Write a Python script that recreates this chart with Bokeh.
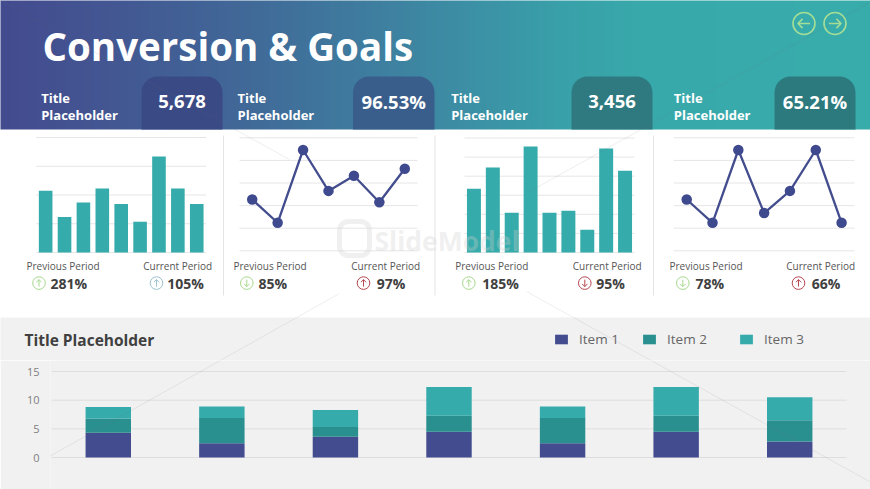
import numpy as np
from bokeh.embed import file_html
from bokeh.resources import INLINE
from bokeh.core.properties import value
from bokeh.layouts import column, row
from bokeh.models import Range1d, ColumnDataSource, FixedTicker, Legend, LegendItem
from bokeh.plotting import figure

# ---- data ----
heading = "Conversion & Goals"
kpi_values = ["5,678", "96.53%", "3,456", "65.21%"]
bars_1 = [4.29, 2.47, 3.47, 4.45, 3.38, 2.14, 6.67, 4.45, 3.38]
line_2 = [2.27, 1.24, 4.46, 2.65, 3.32, 2.15, 3.63]
bars_3 = [3.34, 4.46, 2.08, 5.56, 2.08, 2.19, 1.19, 5.45, 4.28]
line_4 = [2.27, 1.24, 4.46, 1.67, 2.65, 4.46, 1.24]
prev_pct = ["281%", "85%", "185%", "78%"]
curr_pct = ["105%", "97%", "95%", "66%"]
item_1 = [4.3, 2.5, 3.6, 4.5, 2.5, 4.5, 2.8]
item_2 = [2.5, 4.4, 1.7, 2.8, 4.4, 2.8, 3.7]
item_3 = [2.0, 2.0, 3.0, 5.0, 2.0, 5.0, 4.0]
item_names = ["Item 1", "Item 2", "Item 3"]
y_ticks = [0, 5, 10, 15]

FONT = value("Open Sans")
TEAL, NAVY, DTEAL = "#36ABAB", "#424C8F", "#2A8F8F"
GREEN, RED, BLUEG = "#A6D98C", "#B5474F", "#9CC3CF"
DARK = "#404040"
GREY = "#F1F1F1"
W, H_TOP, H_BOT = 870, 360, 129
OFF = 1  # layout coordinates below sit one pixel after the drawn page position


def txt(x, y, s, size, color="#555555", style="normal", align="left", alpha=1.0):
    p.text([x], [y], text=[s], text_font=FONT, text_font_size=f"{size}px", text_color=color, text_alpha=alpha,
           text_font_style=style, text_align=align, text_baseline="middle")


def arrow_icon(cx, cy, r, color, direction, lw=1.2):
    a = r * 0.55
    h = r * 0.42
    if direction == "up":
        xs = [[cx, cx], [cx - h, cx, cx + h]]
        ys = [[cy + a, cy - a], [cy - a + h, cy - a, cy - a + h]]
    elif direction == "down":
        xs = [[cx, cx], [cx - h, cx, cx + h]]
        ys = [[cy - a, cy + a], [cy + a - h, cy + a, cy + a - h]]
    elif direction == "left":
        xs = [[cx - a, cx + a], [cx - a + h, cx - a, cx - a + h]]
        ys = [[cy, cy], [cy - h, cy, cy + h]]
    else:
        xs = [[cx - a, cx + a], [cx + a - h, cx + a, cx + a - h]]
        ys = [[cy, cy], [cy - h, cy, cy + h]]
    p.scatter([cx], [cy], marker="circle", size=2 * r, fill_color=None, line_color=color, line_width=lw)
    p.multi_line(xs, ys, line_color=color, line_width=lw)


# ---- top figure: page pixels as main scale, one extra scale per small chart ----
p = figure(width=W, height=H_TOP, x_range=Range1d(OFF, W + OFF), y_range=Range1d(H_TOP + OFF, OFF),
           output_backend="svg", toolbar_location=None, x_axis_location=None, y_axis_location=None,
           min_border=0, outline_line_color=None, background_fill_color="white", border_fill_color="white")
p.grid.visible = False


def chart(name, kind, values, gx0, gx1, gy0, gy1, ticks, bar_w=0.72):
    n = len(values)
    ux = n / (gx1 - gx0)
    uy = ticks[-1] / (gy0 - gy1)
    p.extra_x_ranges[name] = Range1d(0.5 + (OFF - gx0) * ux, 0.5 + (W + OFF - gx0) * ux)
    p.extra_y_ranges[name] = Range1d((gy0 - H_TOP - OFF) * uy, (gy0 - OFF) * uy)
    kw = dict(x_range_name=name, y_range_name=name)
    xs = list(range(1, n + 1))
    p.segment([0.5] * len(ticks), ticks, [n + 0.5] * len(ticks), ticks, line_color="#E6E6E6", line_width=1, **kw)
    if kind == "bar":
        p.vbar(x=xs, top=values, bottom=0, width=bar_w, fill_color=TEAL, line_color=None, **kw)
    else:
        p.line(xs, values, line_color="#434D8E", line_width=2.3, **kw)
        p.scatter(xs, values, marker="circle", size=10.5, fill_color="#3F4A8E", line_color=None, **kw)


def footer(xp, xc, vp, ip, cp, vc, ic, cc, idx, dp, dc):
    txt(xp, 266.7, "Previous Period", 10)
    txt(xc, 266.7, "Current Period", 10)
    txt(vp, 284, prev_pct[idx], 14, DARK, "bold")
    txt(vc, 284, curr_pct[idx], 14, DARK, "bold")
    arrow_icon(ip, 283.6, 6.3, cp, dp, 1.0)
    arrow_icon(ic, 283.6, 6.3, cc, dc, 1.0)


# header
stops_x = [0, 120, 240, 360, 470, 560, 640, 870]
stops_r = [0x43, 0x43, 0x41, 0x3F, 0x3C, 0x39, 0x38, 0x38]
stops_g = [0x4B, 0x58, 0x68, 0x7C, 0x90, 0xA0, 0xA9, 0xAC]
stops_b = [0x8F, 0x93, 0x98, 0x9F, 0xA5, 0xA9, 0xAB, 0xAC]
px = np.arange(0, W + 2)
rr = np.interp(px, stops_x, stops_r).astype(np.uint32)
gg = np.interp(px, stops_x, stops_g).astype(np.uint32)
bb = np.interp(px, stops_x, stops_b).astype(np.uint32)
img = (0xFF000000 | (bb << 16) | (gg << 8) | rr).reshape(1, -1)
p.image_rgba(image=[img], x=0, y=0, dw=W + 2, dh=130)

pills = [(142, 223, "#3A4A85"), (353.5, 435, "#3A5E8B"), (572, 653, "#2E7A80"), (775, 856, "#2C7A7E")]
for (l, r, c), v in zip(pills, kpi_values):
    p.quad(left=[l], right=[r], top=[77], bottom=[130], fill_color=c, line_color=None, border_radius=(16, 16, 0, 0))
    txt((l + r) / 2, 102, v, 18.5, "white", "bold", "center")
for x in [41.7, 238, 451.7, 674.3]:
    txt(x, 98, "Title", 13, "white", "bold")
    txt(x, 115, "Placeholder", 13, "white", "bold")
txt(43, 46, heading, 38.5, "white", "bold")
arrow_icon(804.5, 24, 11, "#A5DE96", "left", 1.6)
arrow_icon(835.5, 24, 11, "#A5DE96", "right", 1.6)

# small charts
chart("c1", "bar", bars_1, 36.7, 206.7, 253, 138, [0, 2, 4, 6, 8])
chart("c2", "line", line_2, 240, 418, 251.3, 138.3, [0, 1, 2, 3, 4, 5])
chart("c3", "bar", bars_3, 465, 635, 253, 138.5, [0, 1, 2, 3, 4, 5, 6], 0.74)
chart("c4", "line", line_4, 674.3, 855, 251.3, 138.3, [0, 1, 2, 3, 4, 5])
footer(27, 143.7, 51, 39.5, GREEN, 167.7, 157, BLUEG, 0, "up", "up")
footer(234, 351.7, 259, 247.3, GREEN, 377.3, 364, RED, 1, "down", "up")
footer(455.7, 573.3, 482.7, 469.3, GREEN, 596.7, 585.3, RED, 2, "up", "down")
footer(670, 786.7, 696, 683.3, GREEN, 812.3, 799, RED, 3, "down", "up")
p.segment([224, 435.5, 654], [136] * 3, [224, 435.5, 654], [296] * 3, line_color="#E4E4E4", line_width=1)

# grey panel head: title and legend
p.quad(left=[0], right=[W + 2], top=[318], bottom=[H_TOP + 5], fill_color=GREY, line_color=None)
txt(25, 340, "Title Placeholder", 15.5, DARK, "bold")
keys = [p.vbar(x=[-999], top=[0], width=1, fill_color=c, line_color=None) for c in (NAVY, DTEAL, TEAL)]
for r, n, x in zip(keys, item_names, [553, 641, 738]):
    lg = Legend(items=[LegendItem(label=n, renderers=[r])], location=(x, H_TOP - 348), orientation="horizontal",
                background_fill_alpha=0, border_line_color=None, padding=0, margin=0, spacing=0,
                glyph_width=16, glyph_height=12, label_standoff=10, label_text_font="Open Sans",
                label_text_font_size="13.5px", label_text_color="#666666")
    p.add_layout(lg, "center")

# watermark
WM_X0 = [0, 527, 870, 340]
WM_Y0 = [0, 292, 3, 294]
WM_X1 = [290, 870, 530, 0]
WM_Y1 = [160, 482, 192, 485]
p.segment(WM_X0, WM_Y0, WM_X1, WM_Y1, line_color="#777777", line_alpha=0.12, line_width=1)
txt(375, 241, "SlideModel", 26.5, "#D0D0D0", "bold", alpha=0.32)
p.quad(left=[340], right=[370], top=[222], bottom=[256], fill_color=None, line_color="#D0D0D0",
       line_alpha=0.32, line_width=5, border_radius=9)

# ---- bottom stacked chart ----
PX_L, PX_R, Y0, Y15 = 51, 846, 97, 11   # pixel anchors inside the bottom panel
FRAME_L = 50
ux = 7 / (PX_R - PX_L)
uy = 15 / (Y0 - Y15)
cats = list(range(1, 8))
src = ColumnDataSource(dict(x=cats, a=item_1, b=item_2, c=item_3))
b = figure(width=W, height=H_BOT, x_range=Range1d(0.5 + (FRAME_L - PX_L) * ux, 0.5 + (W - PX_L) * ux),
           y_range=Range1d((Y0 - H_BOT) * uy, Y0 * uy),
           output_backend="svg", toolbar_location=None, x_axis_location=None,
           min_border_left=FRAME_L, min_border_right=0, min_border_top=0, min_border_bottom=0,
           outline_line_color=None, background_fill_color=GREY, border_fill_color=GREY)
b.grid.visible = False
b.extra_x_ranges["px"] = Range1d(FRAME_L + OFF, W + OFF)
b.extra_y_ranges["px"] = Range1d(489 + OFF, H_TOP + OFF)
ax = b.yaxis[0]
ax.ticker = FixedTicker(ticks=y_ticks)
ax.axis_line_color = None
ax.major_tick_line_color = None
ax.minor_tick_line_color = None
ax.major_label_text_font = "Open Sans"
ax.major_label_text_font_size = "11px"
ax.major_label_text_color = "#7F7F7F"
ax.major_label_standoff = 5
b.segment([0.5] * 4, y_ticks, [7.5] * 4, y_ticks, line_color="#DEDEDE", line_width=1)
b.vbar_stack(["a", "b", "c"], x="x", width=0.4, color=[NAVY, DTEAL, TEAL], line_color=None, source=src)
b.segment(WM_X0, WM_Y0, WM_X1, WM_Y1, line_color="#777777", line_alpha=0.12, line_width=1,
          x_range_name="px", y_range_name="px")

page = column(row(p), row(b), spacing=0)
open("out.html", "w").write(file_html(page, INLINE))
